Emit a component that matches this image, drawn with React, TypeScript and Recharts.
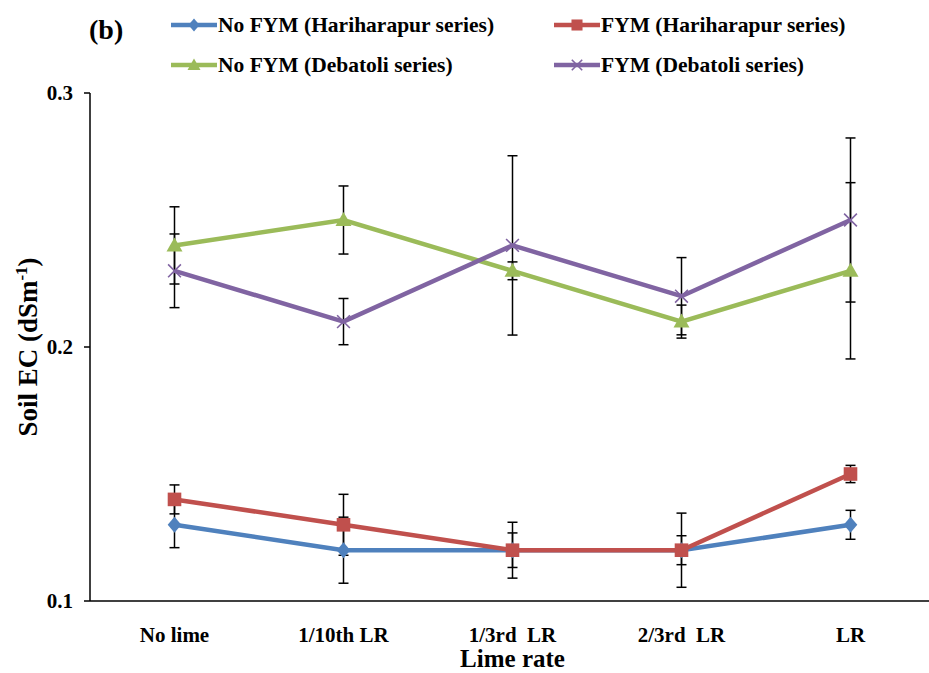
import React from 'react';
import { LineChart, Line, XAxis, YAxis, ErrorBar } from 'recharts';

const categories = ['No lime', '1/10th LR', '1/3rd  LR', '2/3rd  LR', 'LR'];

const noFymHari = [0.13, 0.12, 0.12, 0.12, 0.13];
const noFymHariErr = [0.009, 0.013, 0.011, 0.0057, 0.0057];
const fymHari = [0.14, 0.13, 0.12, 0.12, 0.15];
const fymHariErr = [0.0057, 0.012, 0.0068, 0.0146, 0.0034];
const noFymDeba = [0.24, 0.25, 0.23, 0.21, 0.23];
const noFymDebaErr = [0.0152, 0.0134, 0.0035, 0.0065, 0.0347];
const fymDeba = [0.23, 0.21, 0.24, 0.22, 0.25];
const fymDebaErr = [0.0145, 0.0091, 0.0353, 0.0152, 0.0323];

const yTicks = [0.1, 0.2, 0.3];
const bandTicks = [0, 1, 2, 3, 4, 5];

const BLUE = '#4F81BD';
const RED = '#C0504D';
const GREEN = '#9BBB59';
const PURPLE = '#8064A2';
const FONT = '"Liberation Serif", "Times New Roman", serif';

const data = categories.map((name, i) => ({
  name,
  nfh: noFymHari[i],
  nfhErr: noFymHariErr[i],
  fh: fymHari[i],
  fhErr: fymHariErr[i],
  nfd: noFymDeba[i],
  nfdErr: noFymDebaErr[i],
  fd: fymDeba[i],
  fdErr: fymDebaErr[i],
}));

type Mark = 'diamond' | 'square' | 'triangle' | 'cross';

function marker(kind: Mark, cx: number, cy: number, color: string, s = 8) {
  if (kind === 'diamond')
    return <path d={`M${cx},${cy - s}L${cx + s * 0.85},${cy}L${cx},${cy + s}L${cx - s * 0.85},${cy}Z`} fill={color} />;
  if (kind === 'square')
    return <rect x={cx - s * 0.85} y={cy - s * 0.85} width={s * 1.7} height={s * 1.7} fill={color} />;
  if (kind === 'triangle')
    return <path d={`M${cx},${cy - s}L${cx + s},${cy + s * 0.75}L${cx - s},${cy + s * 0.75}Z`} fill={color} />;
  return (
    <path
      d={`M${cx - s * 0.8},${cy - s * 0.8}L${cx + s * 0.8},${cy + s * 0.8}M${cx + s * 0.8},${cy - s * 0.8}L${cx - s * 0.8},${cy + s * 0.8}`}
      stroke={color}
      strokeWidth={1.6}
      fill="none"
    />
  );
}

const dotFor = (kind: Mark, color: string) => (props: any) => {
  const { cx, cy, index } = props;
  return <g key={`${kind}-${index}`}>{marker(kind, cx, cy, color)}</g>;
};

const CatTick = (props: any) => {
  const { x, y, payload } = props;
  return (
    <text
      x={x}
      y={y + 33}
      textAnchor="middle"
      style={{ whiteSpace: 'pre' }}
      fontFamily={FONT}
      fontWeight="bold"
      fontSize={21}
      fill="#000"
    >
      {payload.value}
    </text>
  );
};

const XTitle = (props: any) => {
  const { viewBox } = props;
  return (
    <text
      x={viewBox.x + viewBox.width / 2}
      y={viewBox.y + 66}
      textAnchor="middle"
      fontFamily={FONT}
      fontWeight="bold"
      fontSize={25}
      fill="#000"
    >
      Lime rate
    </text>
  );
};

const legendItems: { label: string; color: string; kind: Mark; left: number; top: number }[] = [
  { label: 'No FYM (Hariharapur series)', color: BLUE, kind: 'diamond', left: 170, top: 12 },
  { label: 'FYM (Hariharapur series)', color: RED, kind: 'square', left: 553, top: 12 },
  { label: 'No FYM (Debatoli series)', color: GREEN, kind: 'triangle', left: 170, top: 52 },
  { label: 'FYM (Debatoli series)', color: PURPLE, kind: 'cross', left: 553, top: 52 },
];

export default function App() {
  return (
    <div style={{ position: 'absolute', left: 0, top: 0, width: 929, height: 673, overflow: 'hidden', background: '#fff' }}>
      <div style={{ position: 'absolute', left: 89, top: 14, fontFamily: FONT, fontWeight: 'bold', fontSize: 28, lineHeight: '32px' }}>(b)</div>
      {legendItems.map((it) => (
        <div
          key={it.label}
          style={{ position: 'absolute', left: it.left, top: it.top, height: 26, display: 'flex', alignItems: 'center', fontFamily: FONT, fontWeight: 'bold', fontSize: 21.5 }}
        >
          <svg width={48} height={26}>
            <line x1={1} y1={13} x2={47} y2={13} stroke={it.color} strokeWidth={4.5} />
            {marker(it.kind, 24, 13, it.color, 6.5)}
          </svg>
          <span>{it.label}</span>
        </div>
      ))}
      <LineChart width={940} height={673} data={data} margin={{ top: 93, right: 5, left: 0, bottom: 0 }}>
        <XAxis
          xAxisId="band"
          type="number"
          domain={[0, 5]}
          ticks={bandTicks}
          height={0}
          axisLine={false}
          tickLine={{ stroke: '#000', strokeWidth: 1.5 }}
          tickSize={5}
          tickFormatter={() => ''}
        />
        <XAxis
          xAxisId="cat"
          dataKey="name"
          scale="band"
          height={72}
          axisLine={{ stroke: '#000', strokeWidth: 1.5 }}
          tickLine={false}
          tick={<CatTick />}
          interval={0}
          label={{ content: <XTitle /> }}
        />
        <YAxis
          width={90}
          domain={[0.1, 0.3]}
          ticks={yTicks}
          interval={0}
          axisLine={{ stroke: '#000', strokeWidth: 1.5 }}
          tickLine={{ stroke: '#000', strokeWidth: 1.5 }}
          tickSize={6}
          tickMargin={11}
          tick={{ fontFamily: FONT, fontWeight: 'bold', fontSize: 21, fill: '#000' }}
          label={{
            content: () => (
              <text
                transform="translate(37,347) rotate(-90)"
                textAnchor="middle"
                fontFamily={FONT}
                fontWeight="bold"
                fontSize={27}
                fill="#000"
              >
                Soil EC (dSm
                <tspan dy={-10} fontSize={17}>-1</tspan>
                <tspan dy={10}>)</tspan>
              </text>
            ),
          }}
        />
        <Line
          xAxisId="cat"
          dataKey="nfh"
          stroke={BLUE}
          strokeWidth={4.5}
          dot={dotFor('diamond', BLUE)}
          isAnimationActive={false}
        >
          <ErrorBar dataKey="nfhErr" direction="y" width={5} stroke="#000" strokeWidth={1.5} isAnimationActive={false} />
        </Line>
        <Line
          xAxisId="cat"
          dataKey="fh"
          stroke={RED}
          strokeWidth={4.5}
          dot={dotFor('square', RED)}
          isAnimationActive={false}
        >
          <ErrorBar dataKey="fhErr" direction="y" width={5} stroke="#000" strokeWidth={1.5} isAnimationActive={false} />
        </Line>
        <Line
          xAxisId="cat"
          dataKey="nfd"
          stroke={GREEN}
          strokeWidth={4.5}
          dot={dotFor('triangle', GREEN)}
          isAnimationActive={false}
        >
          <ErrorBar dataKey="nfdErr" direction="y" width={5} stroke="#000" strokeWidth={1.5} isAnimationActive={false} />
        </Line>
        <Line
          xAxisId="cat"
          dataKey="fd"
          stroke={PURPLE}
          strokeWidth={4.5}
          dot={dotFor('cross', PURPLE)}
          isAnimationActive={false}
        >
          <ErrorBar dataKey="fdErr" direction="y" width={5} stroke="#000" strokeWidth={1.5} isAnimationActive={false} />
        </Line>
      </LineChart>
    </div>
  );
}
